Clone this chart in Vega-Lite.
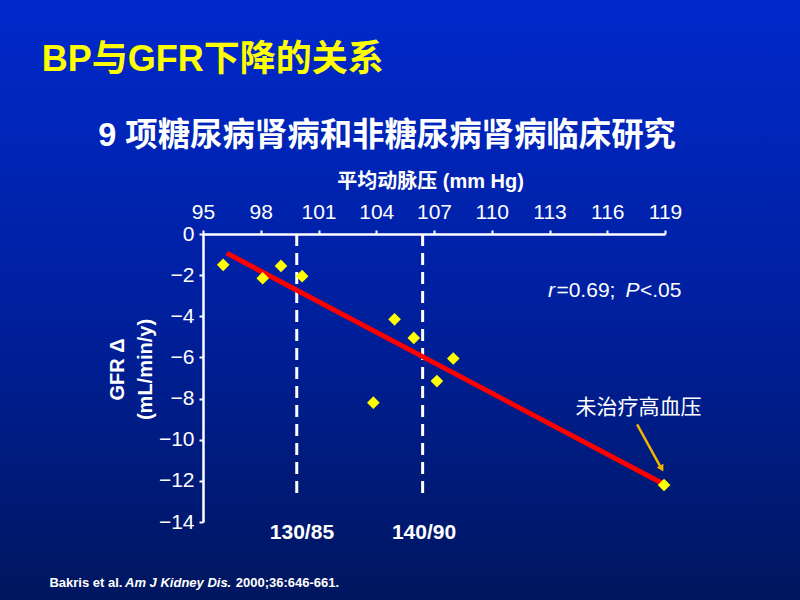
{
  "$schema": "https://vega.github.io/schema/vega-lite/v6.json",
  "width": 462,
  "height": 288,
  "autosize": {"type": "none"},
  "padding": {"left": 203, "top": 234, "right": 135, "bottom": 78},
  "background": "#031e8a",
  "config": {
    "view": {"stroke": null},
    "font": "Liberation Sans, Noto Sans CJK SC",
    "text": {"font": "Liberation Sans, Noto Sans CJK SC", "color": "#ffffff"},
    "axis": {"zindex": 1, "grid": false, "domainColor": "#ffffff", "tickColor": "#ffffff", "labelColor": "#ffffff", "titleColor": "#ffffff"}
  },
  "datasets": {
    "studies": [
      {"mbp": 96.05, "gfr": -1.5},
      {"mbp": 98.1, "gfr": -2.15},
      {"mbp": 99.05, "gfr": -1.55},
      {"mbp": 100.15, "gfr": -2.05},
      {"mbp": 103.85, "gfr": -8.2},
      {"mbp": 104.95, "gfr": -4.15},
      {"mbp": 105.95, "gfr": -5.05},
      {"mbp": 107.15, "gfr": -7.15},
      {"mbp": 108.0, "gfr": -6.05},
      {"mbp": 118.95, "gfr": -12.2}
    ],
    "fit": [
      {"mbp": 96.23, "gfr": -0.93},
      {"mbp": 118.93, "gfr": -12.15}
    ],
    "one": [{}]
  },
  "layer": [
    {
      "data": {"name": "one"},
      "mark": {"type": "rect", "clip": false, "fill": {"gradient": "linear", "x1": 0, "y1": 0, "x2": 0, "y2": 1, "stops": [{"offset": 0, "color": "#0029cc"}, {"offset": 0.5, "color": "#0020a0"}, {"offset": 1, "color": "#00165e"}]}},
      "encoding": {
        "x": {"datum": 84.3, "type": "quantitative", "scale": {"domain": [95, 119], "nice": false, "zero": false}},
        "x2": {"datum": 126.2},
        "y": {"datum": 11.6, "type": "quantitative", "scale": {"domain": [-14, 0], "nice": false, "zero": false}},
        "y2": {"datum": -17.9}
      }
    },
    {
      "data": {"name": "one"},
      "mark": {"type": "rule", "color": "#ffffff", "strokeWidth": 3, "strokeDash": [12, 7]},
      "encoding": {
        "x": {"datum": 99.87, "type": "quantitative", "scale": {"domain": [95, 119], "nice": false, "zero": false}},
        "y": {"datum": 0, "type": "quantitative", "scale": {"domain": [-14, 0], "nice": false, "zero": false}},
        "y2": {"datum": -12.8}
      }
    },
    {
      "data": {"name": "one"},
      "mark": {"type": "rule", "color": "#ffffff", "strokeWidth": 3, "strokeDash": [12, 7]},
      "encoding": {
        "x": {"datum": 106.41, "type": "quantitative", "scale": {"domain": [95, 119], "nice": false, "zero": false}},
        "y": {"datum": 0, "type": "quantitative", "scale": {"domain": [-14, 0], "nice": false, "zero": false}},
        "y2": {"datum": -12.8}
      }
    },
    {
      "data": {"name": "fit"},
      "mark": {"type": "line", "color": "#ff0000", "strokeWidth": 5, "strokeCap": "butt"},
      "encoding": {
        "x": {"field": "mbp", "type": "quantitative", "scale": {"domain": [95, 119], "nice": false, "zero": false}},
        "y": {"field": "gfr", "type": "quantitative", "scale": {"domain": [-14, 0], "nice": false, "zero": false}}
      }
    },
    {
      "data": {"name": "studies"},
      "mark": {"type": "point", "shape": "diamond", "filled": true, "color": "#ffff00", "size": 160, "opacity": 1},
      "encoding": {
        "x": {"field": "mbp", "type": "quantitative", "scale": {"domain": [95, 119], "nice": false, "zero": false},
          "axis": {"orient": "top", "zindex": 1, "title": "平均动脉压 (mm Hg)", "values": [95, 98, 101, 104, 107, 110, 113, 116, 119], "labelFlush": false, "labelFontSize": 21, "titleFontSize": 20, "titleFontWeight": "bold", "domainWidth": 2.5, "tickWidth": 2, "tickSize": 4, "labelPadding": 8, "titlePadding": 10, "titleX": 227, "labelFont": "Liberation Sans", "titleFont": "Liberation Sans, Noto Sans CJK SC"}},
        "y": {"field": "gfr", "type": "quantitative", "scale": {"domain": [-14, 0], "nice": false, "zero": false},
          "axis": {"zindex": 1, "title": ["GFR Δ", "(mL/min/y)"], "values": [-14, -12, -10, -8, -6, -4, -2, 0], "labelFlush": false, "labelFontSize": 21, "titleFontSize": 20, "titleFontWeight": "bold", "domainWidth": 2.5, "tickWidth": 2, "tickSize": 4, "labelPadding": 5, "titlePadding": 3, "titleLineHeight": 28, "titleY": 135, "labelFont": "Liberation Sans", "titleFont": "Liberation Sans, Noto Sans CJK SC"}}
      }
    },
    {
      "data": {"name": "one"},
      "mark": {"type": "rule", "color": "#f2b400", "strokeWidth": 2.5},
      "encoding": {
        "x": {"datum": 117.55, "type": "quantitative", "scale": {"domain": [95, 119], "nice": false, "zero": false}},
        "y": {"datum": -9.25, "type": "quantitative", "scale": {"domain": [-14, 0], "nice": false, "zero": false}},
        "x2": {"datum": 118.75},
        "y2": {"datum": -11.3}
      }
    },
    {
      "data": {"name": "one"},
      "mark": {"type": "point", "shape": "triangle", "filled": true, "color": "#f2b400", "size": 60, "angle": 151, "opacity": 1},
      "encoding": {
        "x": {"datum": 118.8, "type": "quantitative", "scale": {"domain": [95, 119], "nice": false, "zero": false}},
        "y": {"datum": -11.35, "type": "quantitative", "scale": {"domain": [-14, 0], "nice": false, "zero": false}}
      }
    },
    {
      "data": {"name": "one"},
      "mark": {"type": "text", "text": "BP与GFR下降的关系", "align": "left", "baseline": "alphabetic", "fontSize": 36, "fontWeight": "bold", "color": "#ffff00", "clip": false},
      "encoding": {
        "x": {"datum": 86.62, "type": "quantitative", "scale": {"domain": [95, 119], "nice": false, "zero": false}},
        "y": {"datum": 7.94, "type": "quantitative", "scale": {"domain": [-14, 0], "nice": false, "zero": false}}
      }
    },
    {
      "data": {"name": "one"},
      "mark": {"type": "text", "text": "9 项糖尿病肾病和非糖尿病肾病临床研究", "align": "left", "baseline": "alphabetic", "fontSize": 32.4, "fontWeight": "bold", "color": "#ffffff", "clip": false},
      "encoding": {
        "x": {"datum": 89.56, "type": "quantitative", "scale": {"domain": [95, 119], "nice": false, "zero": false}},
        "y": {"datum": 4.28, "type": "quantitative", "scale": {"domain": [-14, 0], "nice": false, "zero": false}}
      }
    },
    {
      "data": {"name": "one"},
      "mark": {"type": "text", "text": "130/85", "align": "center", "baseline": "alphabetic", "fontSize": 21, "fontWeight": "bold", "color": "#ffffff", "clip": false},
      "encoding": {
        "x": {"datum": 100.14, "type": "quantitative", "scale": {"domain": [95, 119], "nice": false, "zero": false}},
        "y": {"datum": -14.81, "type": "quantitative", "scale": {"domain": [-14, 0], "nice": false, "zero": false}}
      }
    },
    {
      "data": {"name": "one"},
      "mark": {"type": "text", "text": "140/90", "align": "center", "baseline": "alphabetic", "fontSize": 21, "fontWeight": "bold", "color": "#ffffff", "clip": false},
      "encoding": {
        "x": {"datum": 106.48, "type": "quantitative", "scale": {"domain": [95, 119], "nice": false, "zero": false}},
        "y": {"datum": -14.81, "type": "quantitative", "scale": {"domain": [-14, 0], "nice": false, "zero": false}}
      }
    },
    {
      "data": {"name": "one"},
      "mark": {"type": "text", "text": "未治疗高血压", "align": "center", "baseline": "middle", "fontSize": 21, "color": "#ffffff", "clip": false},
      "encoding": {
        "x": {"datum": 117.62, "type": "quantitative", "scale": {"domain": [95, 119], "nice": false, "zero": false}},
        "y": {"datum": -8.47, "type": "quantitative", "scale": {"domain": [-14, 0], "nice": false, "zero": false}}
      }
    },
    {
      "data": {"name": "one"},
      "mark": {"type": "text", "text": "r", "align": "left", "baseline": "alphabetic", "fontSize": 21, "fontStyle": "italic", "color": "#ffffff", "clip": false},
      "encoding": {
        "x": {"datum": 112.92, "type": "quantitative", "scale": {"domain": [95, 119], "nice": false, "zero": false}},
        "y": {"datum": -3.06, "type": "quantitative", "scale": {"domain": [-14, 0], "nice": false, "zero": false}}
      }
    },
    {
      "data": {"name": "one"},
      "mark": {"type": "text", "text": "=0.69;", "align": "left", "baseline": "alphabetic", "fontSize": 21, "color": "#ffffff", "clip": false},
      "encoding": {
        "x": {"datum": 113.36, "type": "quantitative", "scale": {"domain": [95, 119], "nice": false, "zero": false}},
        "y": {"datum": -3.06, "type": "quantitative", "scale": {"domain": [-14, 0], "nice": false, "zero": false}}
      }
    },
    {
      "data": {"name": "one"},
      "mark": {"type": "text", "text": "P", "align": "left", "baseline": "alphabetic", "fontSize": 21, "fontStyle": "italic", "color": "#ffffff", "clip": false},
      "encoding": {
        "x": {"datum": 116.95, "type": "quantitative", "scale": {"domain": [95, 119], "nice": false, "zero": false}},
        "y": {"datum": -3.06, "type": "quantitative", "scale": {"domain": [-14, 0], "nice": false, "zero": false}}
      }
    },
    {
      "data": {"name": "one"},
      "mark": {"type": "text", "text": "<.05", "align": "left", "baseline": "alphabetic", "fontSize": 21, "color": "#ffffff", "clip": false},
      "encoding": {
        "x": {"datum": 117.7, "type": "quantitative", "scale": {"domain": [95, 119], "nice": false, "zero": false}},
        "y": {"datum": -3.06, "type": "quantitative", "scale": {"domain": [-14, 0], "nice": false, "zero": false}}
      }
    },
    {
      "data": {"name": "one"},
      "mark": {"type": "text", "text": "Bakris et al.", "align": "left", "baseline": "alphabetic", "fontSize": 13, "fontWeight": "bold", "color": "#ffffff", "clip": false},
      "encoding": {
        "x": {"datum": 87.02, "type": "quantitative", "scale": {"domain": [95, 119], "nice": false, "zero": false}},
        "y": {"datum": -17.16, "type": "quantitative", "scale": {"domain": [-14, 0], "nice": false, "zero": false}}
      }
    },
    {
      "data": {"name": "one"},
      "mark": {"type": "text", "text": "Am J Kidney Dis.", "align": "left", "baseline": "alphabetic", "fontSize": 13, "fontWeight": "bold", "fontStyle": "italic", "color": "#ffffff", "clip": false},
      "encoding": {
        "x": {"datum": 90.95, "type": "quantitative", "scale": {"domain": [95, 119], "nice": false, "zero": false}},
        "y": {"datum": -17.16, "type": "quantitative", "scale": {"domain": [-14, 0], "nice": false, "zero": false}}
      }
    },
    {
      "data": {"name": "one"},
      "mark": {"type": "text", "text": "2000;36:646-661.", "align": "left", "baseline": "alphabetic", "fontSize": 13, "fontWeight": "bold", "color": "#ffffff", "clip": false},
      "encoding": {
        "x": {"datum": 96.7, "type": "quantitative", "scale": {"domain": [95, 119], "nice": false, "zero": false}},
        "y": {"datum": -17.16, "type": "quantitative", "scale": {"domain": [-14, 0], "nice": false, "zero": false}}
      }
    }
  ]
}
